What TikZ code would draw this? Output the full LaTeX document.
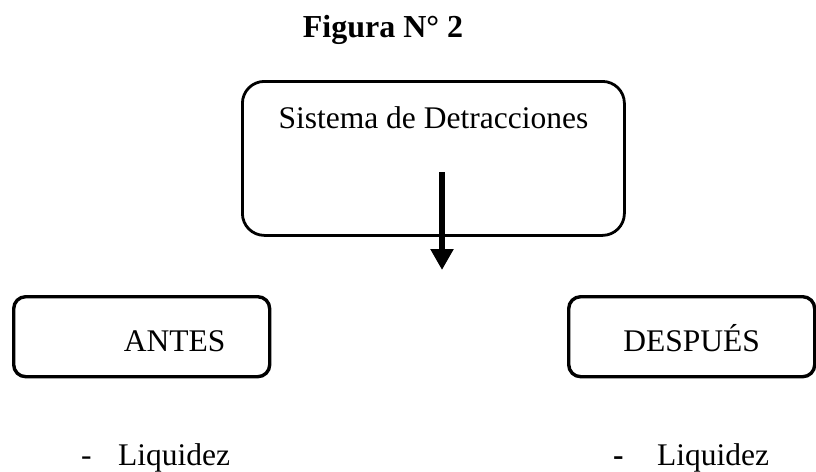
\documentclass[tikz,border=0pt]{standalone}
\usepackage{fontspec}
\setmainfont{Liberation Serif}
\usepackage{tikz}
\usetikzlibrary{arrows.meta, positioning}

\begin{document}
\begin{tikzpicture}[
        x=1pt, y=-1pt,
        every node/.style={font=\fontsize{31.5}{37}\selectfont, inner sep=0pt},
        bigbox/.style={rectangle, rounded corners=22pt, draw=black, line width=2.8pt, minimum width=382pt, text height=47pt, text depth=107pt},
        smallbox/.style={rectangle, rounded corners=12pt, draw=black, line width=3.4pt, text height=55pt, text depth=25pt},
        item/.style={anchor=base west},
        arrow/.style={-{Triangle[width=22pt, length=21pt]}, line width=5.5pt}
    ]
        \useasboundingbox (0,0) rectangle (816,471);

        % Title
        \node[anchor=base, font=\fontsize{32}{38}\selectfont\bfseries] (title) at (383,37) {Figura N° 2};

        % Boxes
        \node[bigbox, anchor=north west] (sistema) at (241,80) {Sistema de Detracciones};
        \node[smallbox, anchor=north west, minimum width=256pt] (antes) at (12,295) {\hspace*{66pt}ANTES};
        \node[smallbox, anchor=north west, minimum width=246pt] (despues) at (567,295) {DESPUÉS};

        % Items
        \node[item] (antesdash) at (81,465) {-};
        \node[item] (antesliq) at (118,465) {Liquidez};
        \node[item, font=\fontsize{31.5}{37}\selectfont\bfseries] (despuesdash) at (613,465) {-};
        \node[item] (despuesliq) at (657,465) {Liquidez};

        % Arrow
        \coordinate (arrowtop) at (442,172);
        \coordinate (arrowtip) at (442,270);
        \draw[arrow] (arrowtop) -- (arrowtip);
    \end{tikzpicture}
\end{document}
